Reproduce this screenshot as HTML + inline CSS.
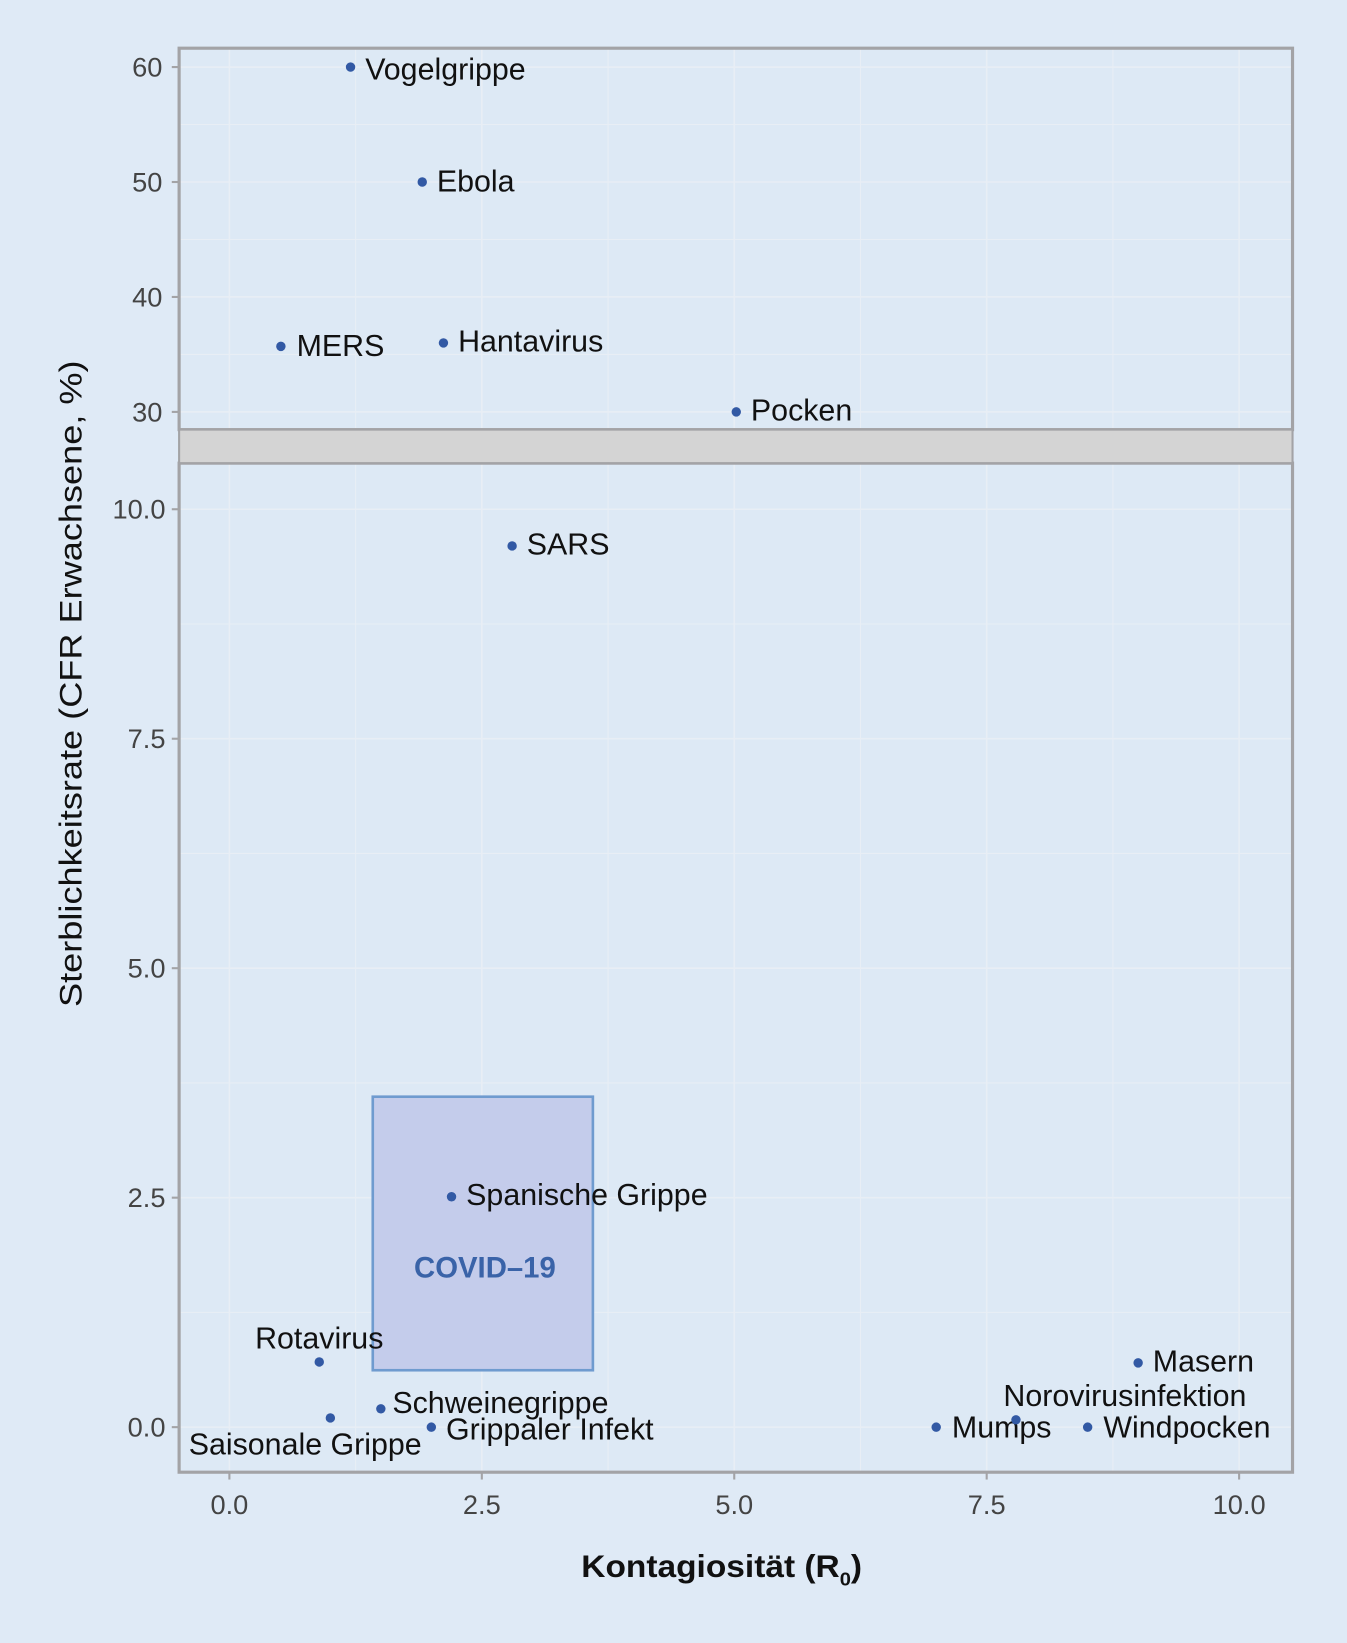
<!DOCTYPE html>
<html><head><meta charset="utf-8"><style>
html,body{margin:0;padding:0;background:#dfeaf6;}
svg{display:block;font-family:"Liberation Sans",sans-serif;}
</style></head><body>
<svg id="chart" width="1347" height="1643" viewBox="0 0 1286 1568" preserveAspectRatio="none" xmlns="http://www.w3.org/2000/svg">
<rect x="0" y="0" width="1286" height="1568" fill="#dfeaf6"/>
<g id="g"></g>
<text x="555" y="1505" font-size="30" font-weight="bold" textLength="268" lengthAdjust="spacingAndGlyphs" fill="#111">Kontagiosität (R<tspan font-size="18" dy="8">0</tspan><tspan dy="-8">)</tspan></text>
<text transform="translate(78,653) rotate(-90)" x="-308" font-size="30" textLength="617" lengthAdjust="spacingAndGlyphs" fill="#111">Sterblichkeitsrate (CFR Erwachsene, %)</text>
</svg>
<script>
const names=["Vogelgrippe","Ebola","MERS","Hantavirus","Pocken","SARS","Spanische Grippe","Rotavirus","Saisonale Grippe","Schweinegrippe","Grippaler Infekt","Mumps","Norovirusinfektion","Windpocken","Masern"];
const r0=[1.2,1.91,0.51,2.12,5.02,2.8,2.2,0.89,1.0,1.5,2.0,7.0,7.79,8.5,9.0];
const cfr=[60,50,35.7,36,30,9.6,2.51,0.71,0.1,0.2,0,0,0.08,0,0.7];
const xTicks=[0,2.5,5,7.5,10];
const topTicks=[30,40,50,60];
const botTicks=[0,2.5,5,7.5,10];
const covidR0=[1.42,3.6];
const covidCfr=[0.62,3.6];
const lab=[[14,12,"start"],[14,9,"start"],[15,9,"start"],[14,8,"start"],[14,8,"start"],[14,8,"start"],[14,8,"start"],[0,-13,"middle"],[-24,35,"middle"],[11,4,"start"],[14,12,"start"],[15,10,"start"],[-12,-13,"start"],[15,10,"start"],[14,8,"start"]];
const X=v=>219+v*96.4;
const YT=v=>64+(60-v)*10.97;
const YB=v=>1362-v*87.6;
const ns="http://www.w3.org/2000/svg";
const g=document.getElementById('g');
function el(t,a,p){const e=document.createElementNS(ns,t);for(const k in a)e.setAttribute(k,a[k]);(p||g).appendChild(e);return e;}
const L=171,R=1234;
let p=el('rect',{x:L,y:46,width:R-L,height:364,fill:'#dde9f5'});


p=el('rect',{x:L,y:442,width:R-L,height:963,fill:'#dde9f5'});


for(const v of xTicks.concat([1.25,3.75,6.25,8.75])){const sw=xTicks.includes(v)?1.5:1;
 el('line',{x1:X(v),x2:X(v),y1:46,y2:410,stroke:'#e8eef5','stroke-width':sw});
 el('line',{x1:X(v),x2:X(v),y1:442,y2:1405,stroke:'#e8eef5','stroke-width':sw});}
for(const v of [30,35,40,45,50,55,60]) el('line',{x1:L,x2:R,y1:YT(v),y2:YT(v),stroke:'#e8eef5','stroke-width':topTicks.includes(v)?1.5:1});
for(const v of [0,1.25,2.5,3.75,5,6.25,7.5,8.75,10]) el('line',{x1:L,x2:R,y1:YB(v),y2:YB(v),stroke:'#e8eef5','stroke-width':botTicks.includes(v)?1.5:1});
el('rect',{x:L,y:46,width:R-L,height:364,fill:'none',stroke:'#a3a3a6','stroke-width':3});
el('rect',{x:L,y:442,width:R-L,height:963,fill:'none',stroke:'#a3a3a6','stroke-width':3});
let band=el('rect',{x:L,y:410,width:R-L,height:32,fill:'#d4d4d4',stroke:'#a3a3a6','stroke-width':2});


for(const v of topTicks){el('line',{x1:164,x2:171,y1:YT(v),y2:YT(v),stroke:'#a3a3a6','stroke-width':2});
 const t=el('text',{x:155,y:YT(v)+9,'font-size':26,'text-anchor':'end',fill:'#444'});t.textContent=v;
 
 }
for(const v of botTicks){el('line',{x1:164,x2:171,y1:YB(v),y2:YB(v),stroke:'#a3a3a6','stroke-width':2});
 const t=el('text',{x:158,y:YB(v)+9,'font-size':26,'text-anchor':'end',fill:'#444'});t.textContent=v.toFixed(1);
 
 }
for(const v of xTicks){el('line',{x1:X(v),x2:X(v),y1:1405,y2:1412,stroke:'#a3a3a6','stroke-width':2});
 const t=el('text',{x:X(v),y:1445,'font-size':26,'text-anchor':'middle',fill:'#444'});t.textContent=v.toFixed(1);
 
 }
const cb=el('rect',{x:X(covidR0[0]),y:YB(covidCfr[1]),width:X(covidR0[1])-X(covidR0[0]),height:YB(covidCfr[0])-YB(covidCfr[1]),fill:'#c4cceb',stroke:'#6f9bcf','stroke-width':2.5});


const ct=el('text',{x:(X(covidR0[0])+X(covidR0[1]))/2+2,y:1219,'font-size':28,'font-weight':'bold','text-anchor':'middle',fill:'#3a63a8'});
ct.textContent='COVID–19';


names.forEach((n,i)=>{const cx=X(r0[i]),cy=cfr[i]>=20?YT(cfr[i]):YB(cfr[i]);
 const c=el('circle',{cx:cx,cy:cy,r:4.5,fill:'#3259a4'});
 
 
 const o=lab[i];
 const t=el('text',{x:cx+o[0],y:cy+o[1],'font-size':29,'text-anchor':o[2],fill:'#111'});t.textContent=n;
 
 
});
</script>
</body></html>
